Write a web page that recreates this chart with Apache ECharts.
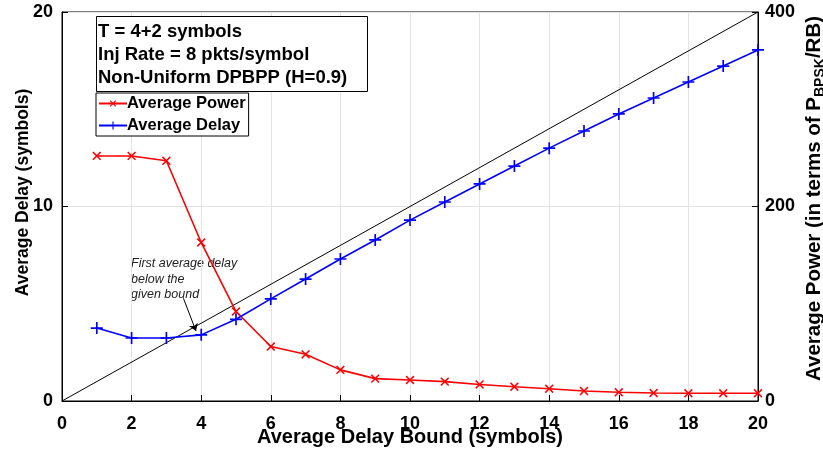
<!DOCTYPE html>
<html>
<head>
<meta charset="utf-8">
<script src="https://cdn.jsdelivr.net/npm/echarts@6/dist/echarts.min.js"></script>
<style>
  html, body { margin: 0; padding: 0; background: #fff; }
  #chart { width: 823px; height: 451px; }
</style>
</head>
<body>
<div id="chart"></div>
<script>
var bounds = [1, 2, 3, 4, 5, 6, 7, 8, 9, 10, 11, 12, 13, 14, 15, 16, 17, 18, 19, 20];
var avgDelay = [3.75, 3.24, 3.24, 3.4, 4.2, 5.25, 6.27, 7.3, 8.28, 9.3, 10.23, 11.16, 12.08, 13.0, 13.88, 14.76, 15.58, 16.4, 17.22, 18.05];
var avgPower = [252, 252, 247, 163, 92, 56, 48, 32, 23, 21.6, 19.9, 17, 14.7, 12.6, 10.3, 9, 8.2, 8, 8, 8];
var boundLine = [[0, 0], [20, 20]];
var arrowFrom = [3.49, 5.28];
var arrowTo = [3.85, 3.6];
var infoLines = ['T = 4+2 symbols', 'Inj Rate = 8 pkts/symbol', 'Non-Uniform DPBPP (H=0.9)'];

var font = 'Liberation Sans, Arial, sans-serif';
var plusPath = 'path://M4.3,0H5.7V4.3H10V5.7H5.7V10H4.3V5.7H0V4.3H4.3Z';

function pairs(xs, ys) {
  return xs.map(function (x, i) { return [x, ys[i]]; });
}

var chart = echarts.init(document.getElementById('chart'));

var axisLabel = { color: '#000', fontWeight: 'bold', fontSize: 18, fontFamily: font };

chart.setOption({
  animation: false,
  title: {
    text: infoLines.join('\n'),
    left: 96,
    top: 16,
    padding: [4, 20, 3, 2],
    borderColor: '#000',
    borderWidth: 1,
    backgroundColor: '#fff',
    textStyle: { color: '#000', fontWeight: 'bold', fontSize: 18.5, fontFamily: font, lineHeight: 23 }
  },
  legend: {
    data: ['Average Power', 'Average Delay'],
    orient: 'vertical',
    left: 96,
    top: 93,
    padding: [2, 3, 2, 2],
    itemGap: 5,
    itemWidth: 28,
    itemHeight: 10,
    borderColor: '#000',
    borderWidth: 1,
    backgroundColor: '#fff',
    textStyle: { color: '#000', fontWeight: 'bold', fontSize: 16.5, fontFamily: font, padding: [0, 0, 0, -5] }
  },
  grid: {
    left: 62, right: 65, top: 12, bottom: 50,
    outerBoundsMode: 'none',
    containLabel: false,
    show: true, borderColor: '#000', borderWidth: 1
  },
  xAxis: {
    type: 'value',
    min: 0, max: 20, interval: 2,
    name: 'Average Delay Bound (symbols)',
    nameLocation: 'middle',
    nameGap: 26,
    nameMoveOverlap: false,
    nameTextStyle: { color: '#000', fontWeight: 'bold', fontSize: 20, fontFamily: font },
    axisLine: { lineStyle: { color: '#000' } },
    axisTick: { inside: true, length: 6, lineStyle: { color: '#000' } },
    axisLabel: Object.assign({ margin: 14 }, axisLabel),
    splitLine: { show: true, lineStyle: { color: '#e3e3e3' } }
  },
  yAxis: [{
    type: 'value',
    min: 0, max: 20, interval: 10,
    name: 'Average Delay (symbols)',
    nameLocation: 'middle',
    nameGap: 30,
    nameMoveOverlap: false,
    nameTextStyle: { color: '#000', fontWeight: 'bold', fontSize: 17.5, fontFamily: font, padding: [0, 0, 0, 28] },
    axisLine: { show: true, lineStyle: { color: '#000' } },
    axisTick: { show: true, inside: true, length: 6, lineStyle: { color: '#000' } },
    axisLabel: Object.assign({ margin: 9 }, axisLabel),
    splitLine: { show: true, lineStyle: { color: '#e3e3e3' } }
  }, {
    type: 'value',
    min: 0, max: 400, interval: 200,
    position: 'right',
    name: '{a|Average Power (in terms of P}{b|BPSK}{a|/RB)}',
    nameLocation: 'middle',
    nameGap: 43,
    nameMoveOverlap: false,
    nameRotate: 90,
    nameTextStyle: {
      padding: [0, 0, 0, 16],
      rich: {
        a: { color: '#000', fontWeight: 'bold', fontSize: 20.5, fontFamily: font },
        b: { color: '#000', fontWeight: 'bold', fontSize: 14, fontFamily: font, padding: [12, 0, 0, 0] }
      }
    },
    axisLine: { show: true, lineStyle: { color: '#000' } },
    axisTick: { show: true, inside: true, length: 6, lineStyle: { color: '#000' } },
    axisLabel: Object.assign({ margin: 7 }, axisLabel),
    splitLine: { show: false }
  }],
  graphic: [{
    type: 'text',
    left: 131,
    top: 256,
    style: {
      text: 'First average delay\nbelow the\ngiven bound',
      fill: '#222',
      font: 'italic 12.5px ' + font,
      lineHeight: 15.5
    }
  }],
  series: [{
    name: 'Bound',
    type: 'line',
    yAxisIndex: 0,
    data: boundLine,
    symbol: 'none',
    lineStyle: { color: '#000', width: 1 },
    silent: true,
    markLine: {
      silent: true,
      symbol: ['none', 'arrow'],
      symbolSize: 7,
      lineStyle: { color: '#000', width: 1, type: 'solid' },
      label: { show: false },
      data: [[{ coord: arrowFrom }, { coord: arrowTo }]]
    }
  }, {
    name: 'Average Power',
    type: 'line',
    yAxisIndex: 1,
    data: pairs(bounds, avgPower),
    symbol: plusPath,
    symbolRotate: 45,
    symbolSize: 11,
    lineStyle: { color: '#ff0000', width: 1.6 },
    itemStyle: { color: '#ff0000' }
  }, {
    name: 'Average Delay',
    type: 'line',
    yAxisIndex: 0,
    data: pairs(bounds, avgDelay),
    symbol: plusPath,
    symbolSize: 12,
    lineStyle: { color: '#0000ff', width: 1.6 },
    itemStyle: { color: '#0000ff' }
  }]
});
</script>
</body>
</html>
